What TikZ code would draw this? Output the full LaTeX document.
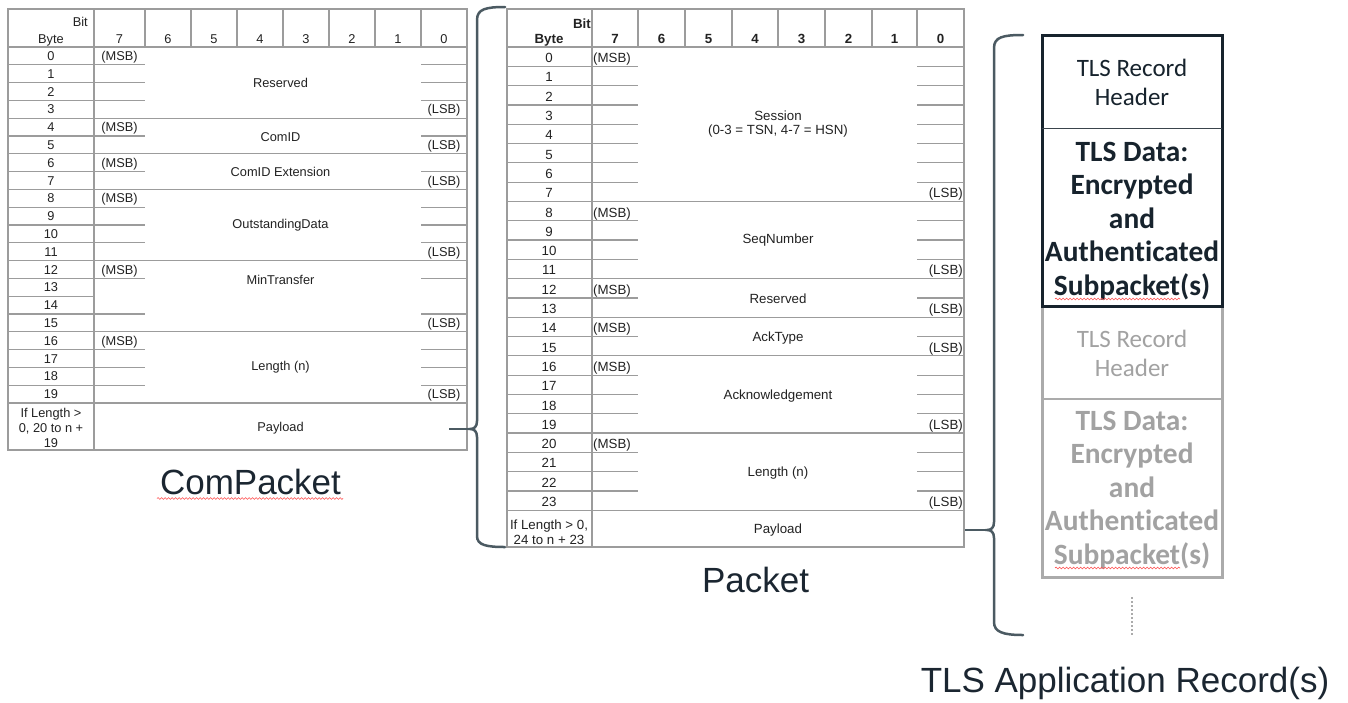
\documentclass[tikz,border=0pt]{standalone}
\usepackage{fontspec}
\setmainfont{Liberation Sans}
\newfontfamily\recfont[Ligatures=NoCommon]{Carlito}
\usetikzlibrary{decorations.pathmorphing}
\definecolor{tline}{HTML}{9C9C9C}
\definecolor{ttext}{HTML}{222222}
\definecolor{bracec}{HTML}{4B5A62}
\definecolor{darkbox}{HTML}{17232D}
\definecolor{graybox}{HTML}{ABABAB}
\definecolor{graytext}{HTML}{A2A2A2}
\definecolor{labelc}{HTML}{1B2631}
\begin{document}
\begin{tikzpicture}[x=1pt,y=-1pt,
  tl/.style={draw=tline, line width=1.2pt},
  lcell/.style={inner sep=0pt, text=ttext, font=\fontsize{12.8}{15}\selectfont},
  mcell/.style={inner sep=0pt, text=ttext, font=\fontsize{13.3}{14.5}\selectfont},
  mhead/.style={inner sep=0pt, text=ttext, font=\bfseries\fontsize{13.3}{15}\selectfont},
  brc/.style={draw=bracec, line width=2.5pt, line cap=round},
  lead/.style={draw=bracec, line width=2.2pt},
  wavy/.style={draw=red!70, line width=0.6pt, decorate, decoration={snake, amplitude=0.9pt, segment length=3.5pt}},
  biglabel/.style={inner sep=0pt, text=labelc, font=\fontsize{35}{40}\selectfont},
  rechead/.style={inner sep=0pt, align=center, font=\recfont\fontsize{25}{29}\selectfont},
  recdata/.style={inner sep=0pt, align=center, font=\recfont\bfseries\fontsize{29.4}{33.5}\selectfont}]
\useasboundingbox (0,0) rectangle (1348,702);
\fill[white] (0,0) rectangle (1348,702);

% ================= Left table: ComPacket =================
\draw[tl] (8,9) rectangle (467,450);
\draw[tl] (8,47) -- (467,47);
\foreach \x in {94,145,191,237,283,329,375,421} \draw[tl] (\x,9) -- (\x,47);
\draw[tl] (94,47) -- (94,450);
\foreach \i in {1,...,19} \draw[tl] (8,{47+\i*17.8}) -- (94,{47+\i*17.8});
\foreach \i in {4,6,8,12,16,20} \draw[tl] (8,{47+\i*17.8}) -- (467,{47+\i*17.8});
\foreach \i in {1,2,3,5,7,9,10,11,13,15,17,18,19} {
  \draw[tl] (94,{47+\i*17.8}) -- (145,{47+\i*17.8});
  \draw[tl] (421,{47+\i*17.8}) -- (467,{47+\i*17.8});
}
\node[lcell, anchor=base east] (Lbit) at (88,26.5) {Bit};
\node[lcell, anchor=base] (Lbyte) at (51,43.5) {Byte};
\foreach \x/\b in {119.5/7,168/6,214/5,260/4,306/3,352/2,398/1,444/0}
  \node[lcell, anchor=base] (Lh\b) at (\x,43.5) {\b};
\foreach \i in {0,...,19}
  \node[lcell, anchor=base] (Lr\i) at (51,{47+(\i+0.5)*17.8+4.6}) {\i};
\foreach \i in {0,4,6,8,12,16}
  \node[lcell, anchor=base] (Lm\i) at (119.5,{47+(\i+0.5)*17.8+4.6}) {(MSB)};
\foreach \i in {3,5,7,11,15,19}
  \node[lcell, anchor=base] (Ll\i) at (444,{47+(\i+0.5)*17.8+4.6}) {(LSB)};
\node[lcell] (Lf1) at (280.5,82.6) {Reserved};
\node[lcell] (Lf2) at (280.5,136.6) {ComID};
\node[lcell] (Lf3) at (280.5,172.4) {ComID Extension};
\node[lcell] (Lf4) at (280.5,225) {OutstandingData};
\node[lcell] (Lf5) at (280.5,280) {MinTransfer};
\node[lcell] (Lf6) at (280.5,367.5) {Length (n)};
\node[lcell, align=center] (Lpc) at (51,428) {If Length >\\0, 20 to n +\\19};
\node[lcell] (Lpay) at (280.5,428) {Payload};

% ================= Middle table: Packet =================
\draw[tl] (507,9) rectangle (964,547);
\draw[tl] (507,47) -- (964,47);
\foreach \x in {592,638,685,732,778,825,872,917} \draw[tl] (\x,9) -- (\x,47);
\draw[tl] (592,47) -- (592,547);
\foreach \i in {1,...,23} \draw[tl] (507,{47+\i*19.3}) -- (592,{47+\i*19.3});
\foreach \i in {8,12,14,16,20,24} \draw[tl] (507,{47+\i*19.3}) -- (964,{47+\i*19.3});
\foreach \i in {1,2,3,4,5,6,7,9,10,11,13,15,17,18,19,21,22,23} {
  \draw[tl] (592,{47+\i*19.3}) -- (638,{47+\i*19.3});
  \draw[tl] (917,{47+\i*19.3}) -- (964,{47+\i*19.3});
}
\node[mhead, anchor=base east] (Mbit) at (591,28.5) {Bit};
\node[mhead, anchor=base] (Mbyte) at (549,43.5) {Byte};
\foreach \x/\b in {615/7,661.5/6,708.5/5,755/4,801.5/3,848.5/2,894.5/1,940.5/0}
  \node[mhead, anchor=base] (Mh\b) at (\x,43.5) {\b};
\foreach \i in {0,...,23}
  \node[mcell, anchor=base] (Mr\i) at (549,{47+(\i+0.5)*19.3+6}) {\i};
\foreach \i in {0,8,12,14,16,20}
  \node[mcell, anchor=base west] (Mm\i) at (593,{47+(\i+0.5)*19.3+6}) {(MSB)};
\foreach \i in {7,11,13,15,19,23}
  \node[mcell, anchor=base east] (Ml\i) at (963,{47+(\i+0.5)*19.3+6}) {(LSB)};
\node[mcell, align=center] (Mf1) at (778,124) {Session\\(0-3 = TSN, 4-7 = HSN)};
\node[mcell] (Mf2) at (778,240) {SeqNumber};
\node[mcell] (Mf3) at (778,298.5) {Reserved};
\node[mcell] (Mf4) at (778,338.5) {AckType};
\node[mcell] (Mf5) at (778,396) {Acknowledgement};
\node[mcell] (Mf6) at (778,473) {Length (n)};
\node[mcell, align=center] (Mpc) at (549,532) {If Length > 0,\\24 to n + 23};
\node[mcell] (Mpay) at (778,530.5) {Payload};

% ================= Braces =================
\coordinate (LleadA) at (449,429);
\coordinate (Ltip) at (470,429);
\draw[brc] (505,7) .. controls (486,7) and (477,9) .. (477,20) -- (477,421)
  .. controls (477,427) and (474,429) .. (Ltip)
  .. controls (474,429) and (477,431) .. (477,437) -- (477,536)
  .. controls (477,545) and (486,547) .. (505,547);
\draw[lead] (LleadA) -- (Ltip);

\coordinate (RleadA) at (965,530);
\coordinate (Rtip) at (987,530);
\draw[brc] (1023,35) .. controls (1003,35) and (994,37) .. (994,48) -- (994,522)
  .. controls (994,528) and (991,530) .. (Rtip)
  .. controls (991,530) and (994,532) .. (994,538) -- (994,622)
  .. controls (994,632) and (1003,635) .. (1023,635);
\draw[lead] (RleadA) -- (Rtip);

% ================= TLS records =================
\draw[draw=graybox, line width=3pt] (1042,306) rectangle (1222,577);
\draw[draw=graybox, line width=1.2pt] (1042,399) -- (1222,399);
\draw[draw=darkbox, line width=3pt] (1042,35) rectangle (1222,306);
\draw[draw=darkbox!85, line width=1pt] (1042,128) -- (1222,128);
\node[rechead, text=darkbox] (h1) at (1132,82) {TLS Record\\Header};
\node[recdata, text=darkbox] (d1) at (1132,221) {TLS Data:\\Encrypted\\and\\Authenticated\\Subpacket(s)};
\node[rechead, text=graytext] (h2) at (1132,353) {TLS Record\\Header};
\node[recdata, text=graytext] (d2) at (1132,490) {TLS Data:\\Encrypted\\and\\Authenticated\\Subpacket(s)};
\draw[draw=graybox, line width=2pt, dotted] (1132,597) -- (1132,635);

\draw[wavy] (1055,299) -- (1180,299);
\draw[wavy] (1055,568) -- (1180,568);

% ================= Captions =================
\node[biglabel, anchor=base] (capL) at (250.5,494) {ComPacket};
\draw[wavy] (157,498.5) -- (343,498.5);
\node[biglabel, anchor=base] (capM) at (755.5,592) {Packet};
\node[biglabel, anchor=base] (capR) at (1125,692) {TLS Application Record(s)};
\end{tikzpicture}
\end{document}
